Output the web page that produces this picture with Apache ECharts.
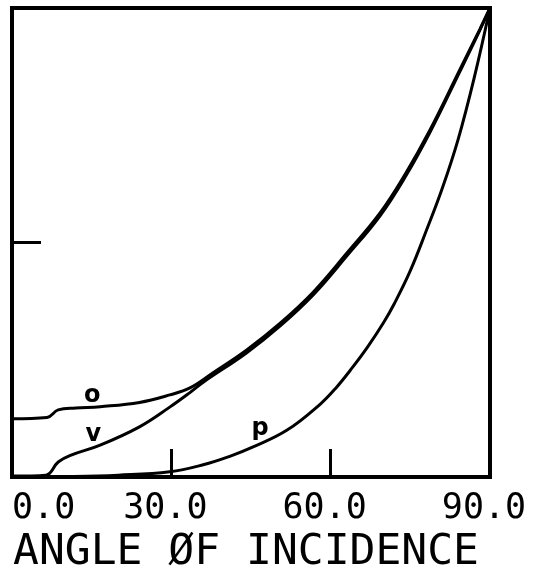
<!DOCTYPE html>
<html>
<head>
<meta charset="utf-8">
<script src="https://cdn.jsdelivr.net/npm/echarts@6/dist/echarts.min.js"></script>
<style>
  html, body { margin: 0; padding: 0; background: #fff; }
  #chart { width: 537px; height: 575px; }
</style>
</head>
<body>
<div id="chart"></div>
<script>
// Reflectance-type curves versus angle of incidence (degrees), normalised to 1 at grazing.
const xTicks = [0, 30, 60, 90];
const xTitle = 'ANGLE ØF INCIDENCE';

// curve "o"
const curveO = [
  [0, 0.124], [6.6, 0.127], [8.7, 0.143], [12, 0.147], [16.6, 0.150],
  [24, 0.159], [29.7, 0.175], [33.5, 0.190], [37.8, 0.222], [44.2, 0.271],
  [50.5, 0.328], [56.7, 0.394], [63.1, 0.478], [69.3, 0.563], [74, 0.645],
  [78.7, 0.740], [84.3, 0.868], [88.1, 0.955], [90, 1.0]
];

// curve "v"
const curveV = [
  [0, 0.002], [6.4, 0.004], [8.7, 0.032], [11, 0.046], [16.6, 0.068],
  [24, 0.107], [29.7, 0.149], [33.5, 0.180], [36, 0.202], [44.2, 0.265],
  [50.5, 0.322], [56.7, 0.388], [63.1, 0.472], [69.3, 0.557], [74, 0.639],
  [78.7, 0.735], [84.3, 0.864], [88.1, 0.953], [90, 1.0]
];

// curve "p"
const curveP = [
  [0, 0], [10, 0.001], [20, 0.004], [29.7, 0.011], [36, 0.026],
  [41, 0.044], [45.4, 0.064], [51.8, 0.100], [58, 0.155], [61, 0.190],
  [64, 0.232], [67, 0.278], [70, 0.330], [72, 0.370], [75, 0.440],
  [78, 0.525], [81, 0.615], [84, 0.720], [87, 0.850], [90, 1.0]
];

const curveNames = ['o', 'v', 'p'];
const curveData = [curveO, curveV, curveP];
const nameAnchors = [[15.1, 0.173], [15.3, 0.091], [46.7, 0.102]];

const chart = echarts.init(document.getElementById('chart'), null, { renderer: 'canvas' });

function makeSeries(i) {
  return {
    type: 'line',
    name: curveNames[i],
    data: curveData[i],
    smooth: 0.4,
    symbol: 'none',
    lineStyle: { color: '#000', width: 3 },
    silent: true,
    z: 3,
    markPoint: {
      symbol: 'circle',
      symbolSize: 1,
      itemStyle: { color: 'rgba(0,0,0,0)' },
      silent: true,
      label: {
        show: true,
        position: 'inside',
        formatter: curveNames[i],
        color: '#000',
        fontFamily: 'DejaVu Sans',
        fontWeight: 'bold',
        fontSize: 24
      },
      data: [{ coord: nameAnchors[i] }]
    }
  };
}

chart.setOption({
  animation: false,
  backgroundColor: '#fff',
  grid: {
    left: 12, right: 47, top: 8, bottom: 98,
    show: true, borderColor: '#000', borderWidth: 4,
    containLabel: false,
    outerBoundsMode: 'none'
  },
  xAxis: {
    type: 'value',
    min: xTicks[0],
    max: xTicks[xTicks.length - 1],
    interval: 30,
    splitLine: { show: false },
    axisLine: { show: true, lineStyle: { color: '#000', width: 4 } },
    axisTick: { show: true, inside: true, length: 28, lineStyle: { color: '#000', width: 3 } },
    axisLabel: {
      show: true,
      margin: 14,
      color: '#000',
      fontFamily: 'DejaVu Sans Mono',
      fontSize: 35,
      padding: [0, 12, 0, 0],
      alignMinLabel: 'left',
      formatter: v => v.toFixed(1)
    },
    name: xTitle,
    nameLocation: 'middle',
    nameGap: 54,
    nameTextStyle: {
      color: '#000',
      fontFamily: 'DejaVu Sans Mono',
      fontSize: 43,
      padding: [0, 10, 0, 0]
    }
  },
  yAxis: {
    type: 'value',
    min: 0,
    max: 1,
    interval: 0.5,
    splitLine: { show: false },
    axisLine: { show: true, lineStyle: { color: '#000', width: 4 } },
    axisTick: { show: true, inside: true, length: 29, lineStyle: { color: '#000', width: 3 } },
    axisLabel: { show: false }
  },
  series: [makeSeries(0), makeSeries(1), makeSeries(2)]
});
</script>
</body>
</html>
